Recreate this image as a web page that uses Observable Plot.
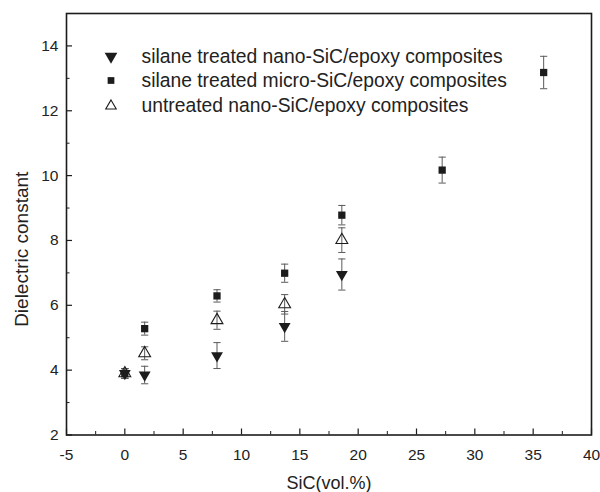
<!DOCTYPE html>
<html>
<head>
<meta charset="utf-8">
<script src="https://cdn.jsdelivr.net/npm/d3@7"></script>
<script src="https://cdn.jsdelivr.net/npm/@observablehq/plot@0.6"></script>
<style>
  html, body { margin: 0; padding: 0; background: #fff; }
  #chart svg { display: block; }
</style>
</head>
<body>
<div id="chart"></div>
<script>
// Series names
const seriesNames = [
  "silane treated nano-SiC/epoxy composites",
  "silane treated micro-SiC/epoxy composites",
  "untreated nano-SiC/epoxy composites"
];

// silane treated nano-SiC/epoxy (filled down triangles)
const nanoSilaneX = [0, 1.7, 7.9, 13.7, 18.6];
const nanoSilaneY = [3.9, 3.85, 4.45, 5.35, 6.95];
const nanoSilaneErr = [0.15, 0.27, 0.4, 0.46, 0.48];

// silane treated micro-SiC/epoxy (filled squares)
const microSilaneX = [0, 1.7, 7.9, 13.7, 18.6, 27.2, 35.9];
const microSilaneY = [3.9, 5.28, 6.29, 6.99, 8.78, 10.17, 13.18];
const microSilaneErr = [0.15, 0.2, 0.19, 0.28, 0.3, 0.4, 0.5];

// untreated nano-SiC/epoxy (open up triangles)
const untreatedX = [0, 1.7, 7.9, 13.7, 18.6];
const untreatedY = [3.9, 4.52, 5.54, 6.03, 8.01];
const untreatedErr = [0.15, 0.2, 0.28, 0.3, 0.38];

// Axis ticks
const xMajor = [-5, 0, 5, 10, 15, 20, 25, 30, 35, 40];
const xMinor = [-2.5, 2.5, 7.5, 12.5, 17.5, 22.5, 27.5, 32.5, 37.5];
const yMajor = [2, 4, 6, 8, 10, 12, 14];
const yMinor = [3, 5, 7, 9, 11, 13];

const toRows = (xs, ys, es, s) => xs.map((x, i) => ({x, y: ys[i], e: es[i], s}));
const nanoRows = toRows(nanoSilaneX, nanoSilaneY, nanoSilaneErr, 0);
const microRows = toRows(microSilaneX, microSilaneY, microSilaneErr, 1);
const untreatedRows = toRows(untreatedX, untreatedY, untreatedErr, 2);
const allRows = [...nanoRows, ...microRows, ...untreatedRows];

const W = 600, H = 492;
const M = {top: 13, right: 9, bottom: 57.5, left: 66};
const innerW = W - M.left - M.right;
const innerH = H - M.top - M.bottom;

const cap = {draw(ctx) { ctx.moveTo(-3.6, 0); ctx.lineTo(3.6, 0); }};
const ink = "#1c1c1c";
const errInk = "#5a5a5a";
const font = "Liberation Sans, Arial, Helvetica, sans-serif";

const legendDy = [43, 67, 92.5];
const legendText = (i) => Plot.text([seriesNames[i]], {
  frameAnchor: "top-left", dx: 75, dy: legendDy[i], fontSize: 19.3,
  textAnchor: "start", lineAnchor: "middle", fill: "#222"
});

const chart = Plot.plot({
  width: W,
  height: H,
  marginTop: M.top,
  marginRight: M.right,
  marginBottom: M.bottom,
  marginLeft: M.left,
  style: {fontFamily: font, color: "#222", background: "#fff"},
  x: {domain: [-5, 40], axis: null},
  y: {domain: [2, 15], axis: null},
  marks: [
    // tick marks (inward)
    Plot.tickX(xMajor, {x: d => d, stroke: ink, strokeWidth: 1.2, insetTop: innerH - 6}),
    Plot.tickX(xMinor, {x: d => d, stroke: ink, strokeWidth: 1, insetTop: innerH - 3.5}),
    Plot.tickY(yMajor, {y: d => d, stroke: ink, strokeWidth: 1.2, insetRight: innerW - 6}),
    Plot.tickY(yMinor, {y: d => d, stroke: ink, strokeWidth: 1, insetRight: innerW - 3.5}),
    // tick labels
    Plot.axisX({ticks: xMajor, tickSize: 0, tickPadding: 14, fontSize: 15.5, label: null, tickFormat: d => String(d)}),
    Plot.axisY({ticks: yMajor, tickSize: 0, tickPadding: 8, fontSize: 15.5, label: null, tickFormat: d => String(d)}),
    // frame
    Plot.frame({stroke: ink, strokeWidth: 1.6}),
    // error bars
    Plot.ruleX(allRows, {x: "x", y1: d => d.y - d.e, y2: d => d.y + d.e, stroke: errInk, strokeWidth: 1}),
    Plot.dot(allRows, {x: "x", y: d => d.y + d.e, symbol: cap, stroke: errInk, strokeWidth: 1, fill: "none"}),
    Plot.dot(allRows, {x: "x", y: d => d.y - d.e, symbol: cap, stroke: errInk, strokeWidth: 1, fill: "none"}),
    // markers
    Plot.dot(microRows, {x: "x", y: "y", symbol: "square", r: 4.1, fill: ink, stroke: "none"}),
    Plot.dot(untreatedRows, {x: "x", y: "y", symbol: "triangle", r: 4.4, fill: "#fff", fillOpacity: 0, stroke: ink, strokeWidth: 1.1}),
    Plot.dot(nanoRows, {x: "x", y: "y", symbol: "triangle", rotate: 180, r: 4.4, fill: ink, stroke: "none"}),
    // legend
    Plot.dot([0], {frameAnchor: "top-left", dx: 44.5, dy: legendDy[0], symbol: "triangle", rotate: 180, r: 4.7, fill: ink, stroke: "none"}),
    Plot.dot([0], {frameAnchor: "top-left", dx: 44.5, dy: legendDy[1], symbol: "square", r: 3.8, fill: ink, stroke: "none"}),
    Plot.dot([0], {frameAnchor: "top-left", dx: 44.5, dy: legendDy[2], symbol: "triangle", r: 3.9, fill: "none", stroke: ink, strokeWidth: 1.1}),
    legendText(0),
    legendText(1),
    legendText(2),
    // axis titles
    Plot.text(["SiC(vol.%)"], {frameAnchor: "bottom", dy: 48, lineAnchor: "middle", textAnchor: "middle", fontSize: 18, fill: "#222"}),
    Plot.text(["Dielectric constant"], {frameAnchor: "left", dx: -45, dy: 25, textAnchor: "middle", lineAnchor: "middle", rotate: -90, fontSize: 19, fill: "#222"})
  ]
});

document.getElementById("chart").appendChild(chart);
</script>
</body>
</html>
